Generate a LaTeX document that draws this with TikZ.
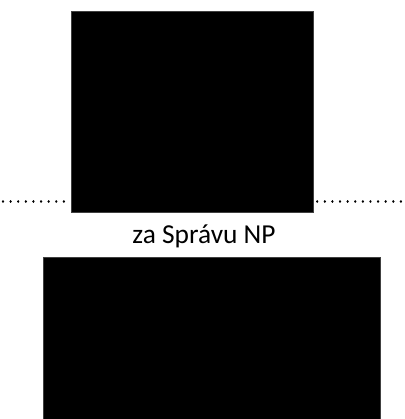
\documentclass[tikz,border=0pt]{standalone}
\usepackage{fontspec}
\setmainfont{Carlito}
\usepackage{tikz}
\usetikzlibrary{positioning}
\tikzset{
blackbox/.style={draw=black!75, fill=black, inner sep=0pt}, % the filled boxes
dotline/.style={line width=2.4bp, line cap=round, dash pattern=on 0.01bp off 7.6bp}, % the dotted rule
caption/.style={font=\fontsize{27.5}{31}\selectfont, inner sep=0pt}, % the text between the boxes
}
\begin{document}
\begin{tikzpicture}[x=1bp, y=-1bp]
        \useasboundingbox (0,0) rectangle (405,419);
        \node[blackbox, minimum width=242bp, minimum height=201bp] (upper) at (192,111.5) {};
        \node[blackbox, minimum width=337bp, minimum height=164bp] (lower) at (211.5,339) {};
        \node[caption, anchor=base] (label) at (204,243) {za Správu NP};
        \coordinate (leftend) at (3,201.5);
        \coordinate (rightend) at (405,201.5);

        \draw[dotline] (leftend) -- (leftend -| upper.west)
        (upper.east |- rightend) ++(4,0) -- (rightend);
      \end{tikzpicture}
\end{document}
